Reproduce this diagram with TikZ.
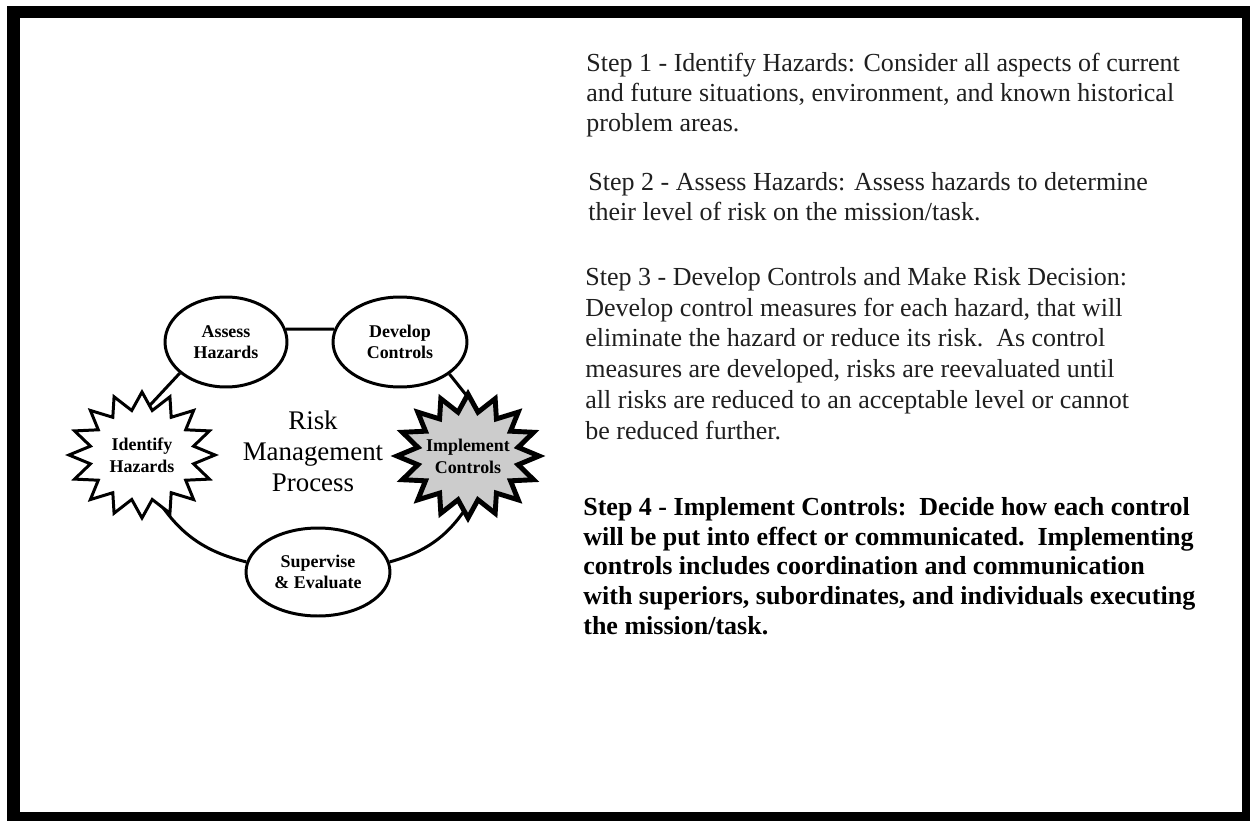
\documentclass[tikz,border=0pt]{standalone}
\usepackage{fontspec}
\setmainfont{Liberation Serif}
\usetikzlibrary{shapes.geometric}

\pgfdeclarelayer{frame}
\pgfdeclarelayer{links}
\pgfsetlayers{frame,links,main}

\tikzset{
  stage/.style={ellipse, draw=black, line width=1.7pt, fill=white, inner sep=0pt,
    align=center, font=\bfseries\fontsize{10.2}{12}\selectfont},
  burstlabel/.style={ellipse, inner sep=0pt, align=center,
    font=\bfseries\fontsize{10.2}{12.4}\selectfont},
  link/.style={draw=black, line width=1.7pt},
  burstline/.style={draw=black, fill=white, line width=1.7pt, line join=miter},
  burstbold/.style={draw=black, fill=gray!40, line width=2.8pt, line join=miter},
  steptext/.style={anchor=north west, inner sep=0pt, align=left, text=black!88,
    font=\fontsize{14.8}{16.9}\selectfont},
  centretitle/.style={align=center, inner sep=0pt,
    font=\fontsize{15.3}{17.6}\selectfont},
}

% starburst outline: centre x, centre y, radius x, radius y, style
\newcommand\drawburst[5]{%
  \path[#5] plot[variable=\t, samples at={0,...,31}]
    ({#1+#3*(1-0.28*mod(\t,2))*cos(90+\t*11.25)},
     {#2+#4*(1-0.28*mod(\t,2))*sin(90+\t*11.25)}) -- cycle;}

\begin{document}
\begin{tikzpicture}[x=0.02cm, y=-0.02cm]
\useasboundingbox (0,0) rectangle (1250,821);

% page frame
\begin{pgfonlayer}{frame}
  \fill[white] (0,0) rectangle (1250,821);
  \fill[black] (7,6) rectangle (1250,821);
  \fill[white] (20,18) rectangle (1242,812);
\end{pgfonlayer}

% cycle of the process
\node[stage, minimum width=2.44cm, minimum height=1.8cm] (assess) at (226,342) {Assess\\Hazards};
\node[stage, minimum width=2.68cm, minimum height=1.8cm] (develop) at (400,342) {Develop\\Controls};
\node[stage, minimum width=2.88cm, minimum height=1.76cm] (supervise) at (318,572) {Supervise\\\& Evaluate};

\drawburst{142}{455}{73}{63}{burstline}
\node[burstlabel, minimum width=2.0cm, minimum height=1.7cm] (identify) at (142,455) {Identify\\Hazards};

\drawburst{468}{456}{71}{62}{burstbold}
\node[burstlabel, minimum width=2.0cm, minimum height=1.7cm] (implement) at (468,456) {Implement\\Controls};

\node[centretitle] (title) at (313,451) {Risk\\Management\\Process};

\begin{pgfonlayer}{links}
  \draw[link] (assess.12) -- (develop.169);
  \draw[link] (assess.214) -- (identify.88);
  \draw[link] (develop.327) -- (implement.72);
  \draw[link] (identify.-72) to[bend right=22] (supervise.172);
  \draw[link] (supervise.8) to[bend right=22] (implement.-85);
\end{pgfonlayer}

% step descriptions
\node[steptext] (step1) at (586,53) {Step 1 - Identify Hazards: Consider all aspects of current\\
and future situations, environment, and known historical\\
problem areas.};
\node[steptext] (step2) at (588,172) {Step 2 - Assess Hazards: Assess hazards to determine\\
their level of risk on the mission/task.};
\node[steptext, font=\fontsize{14.8}{17.5}\selectfont] (step3) at (585,267) {Step 3 - Develop Controls and Make Risk Decision:\\
Develop control measures for each hazard, that will\\
eliminate the hazard or reduce its risk.\ \ As control\\
measures are developed, risks are reevaluated until\\
all risks are reduced to an acceptable level or cannot\\
be reduced further.};
\node[steptext, text=black, font=\bfseries\fontsize{14.8}{16.9}\selectfont] (step4) at (583,497) {Step 4 - Implement Controls:\ \ Decide how each control\\
will be put into effect or communicated.\ \ Implementing\\
controls includes coordination and communication\\
with superiors, subordinates, and individuals executing\\
the mission/task.};
\end{tikzpicture}
\end{document}
